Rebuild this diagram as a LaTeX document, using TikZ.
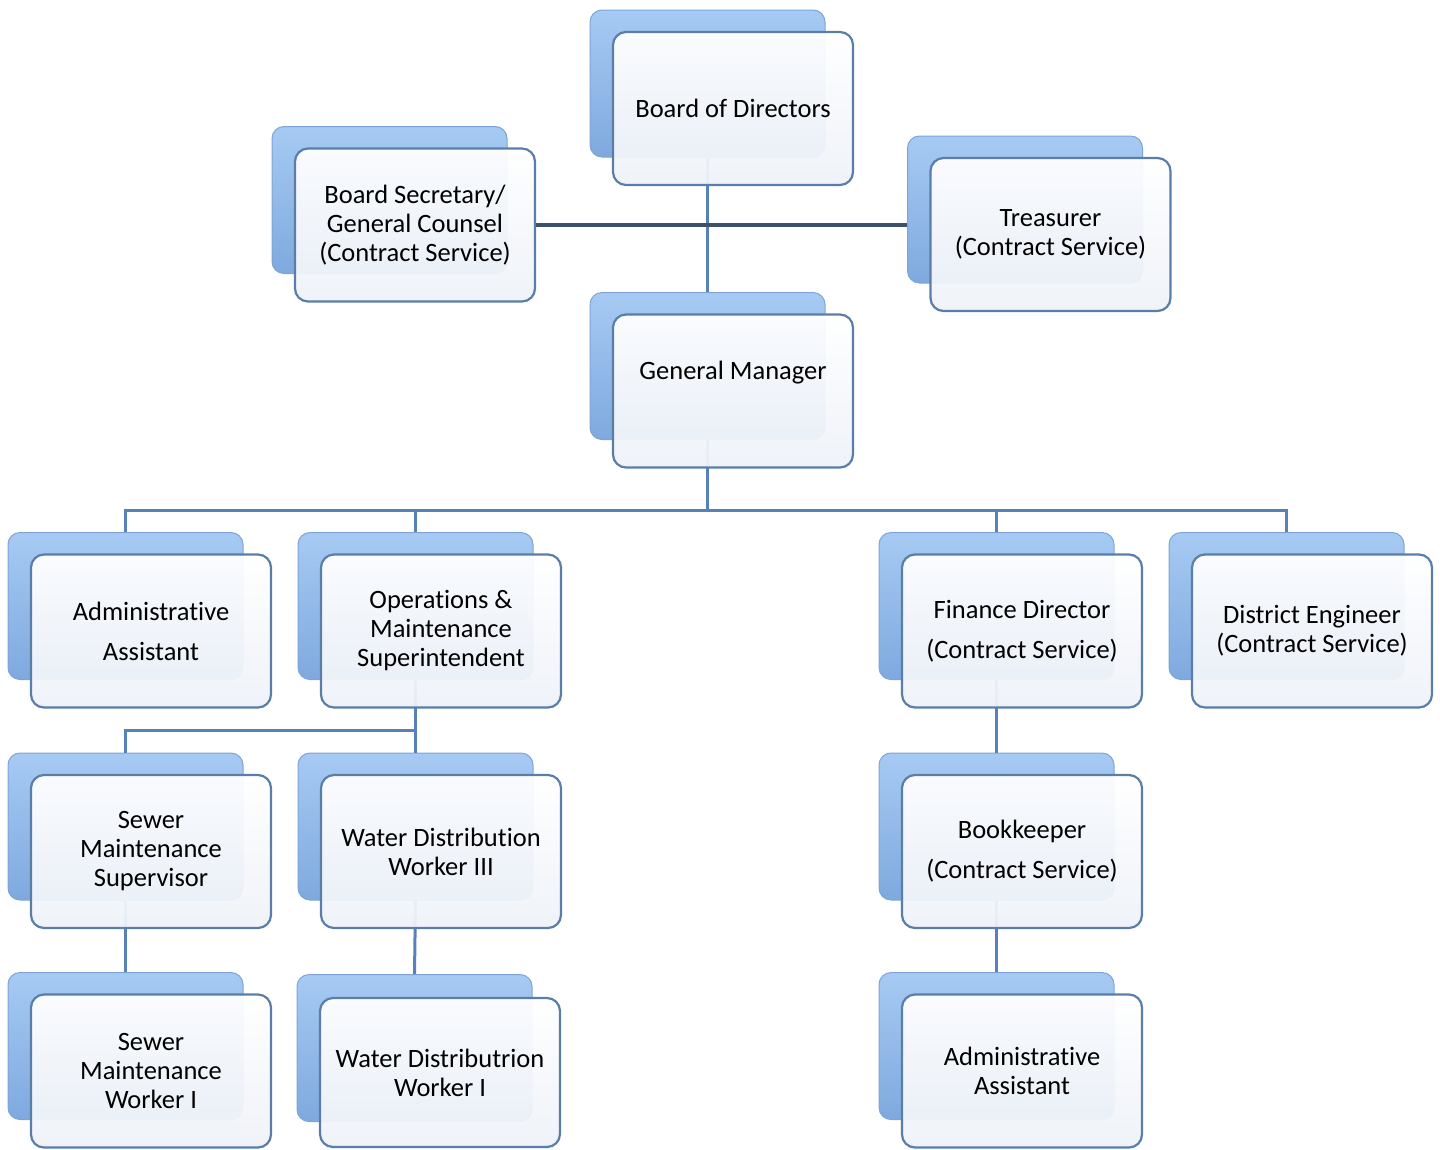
\documentclass[tikz,border=0pt]{standalone}
\usepackage{fontspec}
\setmainfont{Carlito}[Ligatures={NoCommon}]
\definecolor{backtop}{HTML}{A6CAF3}
\definecolor{backbot}{HTML}{7FA9DE}
\definecolor{backedge}{HTML}{7CA4D6}
\definecolor{frontedge}{HTML}{5A7EA8}
\definecolor{frontbot}{HTML}{EEF2F9}
\definecolor{linkblue}{HTML}{5682B8}
\definecolor{darklink}{HTML}{3F5169}
\begin{document}
\begin{tikzpicture}[x=1pt,y=-1pt,
  backbox/.style={minimum width=235pt,minimum height=147pt,rounded corners=12pt,
    top color=backtop,bottom color=backbot,draw=backedge,line width=1pt,inner sep=0pt},
  frontbox/.style={minimum width=240pt,minimum height=153pt,rounded corners=13pt,
    top color=white,bottom color=frontbot,fill opacity=0.95,text opacity=1,draw=frontedge,line width=2.2pt,
    align=center,inner sep=0pt,font=\fontsize{26.5}{29}\selectfont},
  link/.style={draw=linkblue,line width=3pt},
  dlink/.style={draw=darklink,line width=3.5pt}]
\useasboundingbox (0,0) rectangle (1440,1149);
% back boxes
\node[backbox] (bodB)  at (707.5,83.5) {};
\node[backbox] (secB)  at (389.5,200) {};
\node[backbox] (treB)  at (1025,209.5) {};
\node[backbox] (gmB)   at (707.5,366) {};
\node[backbox] (aaB)   at (125.5,606) {};
\node[backbox] (opsB)  at (415.5,606) {};
\node[backbox] (finB)  at (996.5,606) {};
\node[backbox] (deB)   at (1286.5,606) {};
\node[backbox] (ssupB) at (125.5,826.5) {};
\node[backbox] (w3B)   at (415.5,826.5) {};
\node[backbox] (bkB)   at (996.5,826.5) {};
\node[backbox] (sw1B)  at (125.5,1046) {};
\node[backbox] (w1B)   at (414.5,1048) {};
\node[backbox] (aa2B)  at (996.5,1046) {};
% connectors
\coordinate (bus) at (0,510);
\coordinate (bus2) at (0,730);
\draw[link] (bodB.south) -- (gmB.north);
\draw[link] (gmB.south) -- (gmB.south |- bus);
\draw[link] (aaB.north) -- (aaB.north |- bus) -- (deB.north |- bus) -- (deB.north);
\draw[link] (opsB.north) -- (opsB.north |- bus);
\draw[link] (finB.north) -- (finB.north |- bus);
\draw[link] (opsB.south) -- (w3B.north);
\draw[link] (ssupB.north) -- (ssupB.north |- bus2) -- (opsB.south |- bus2);
\draw[link] (ssupB.south) -- (sw1B.north);
\draw[link] (w3B.south) -- (w1B.north);
\draw[link] (finB.south) -- (bkB.north);
\draw[link] (bkB.south) -- (aa2B.north);
% front boxes
\node[frontbox] (bod)  at (733,108.5) {Board of Directors};
\node[frontbox] (sec)  at (415,225) {Board Secretary/\\General Counsel\\(Contract Service)};
\node[frontbox] (tre)  at (1050.5,234.5) {Treasurer\\(Contract Service)};
\node[frontbox] (gm)   at (733,391) {General Manager\\[13pt]\mbox{}};
\node[frontbox] (aa)   at (151,631) {Administrative\\[11pt]Assistant};
\node[frontbox] (ops)  at (441,631) {Operations \&\\Maintenance\\Superintendent};
\node[frontbox] (fin)  at (1022,631) {Finance Director\\[11pt](Contract Service)};
\node[frontbox] (de)   at (1312,631) {District Engineer\\(Contract Service)};
\node[frontbox] (ssup) at (151,851.5) {Sewer\\Maintenance\\Supervisor};
\node[frontbox] (w3)   at (441,851.5) {Water Distribution\\Worker III};
\node[frontbox] (bk)   at (1022,851.5) {Bookkeeper\\[11pt](Contract Service)};
\node[frontbox] (sw1)  at (151,1071) {Sewer\\Maintenance\\Worker I};
\node[frontbox,minimum height=149pt] (w1) at (440,1072.5) {Water Distributrion\\Worker I};
\node[frontbox] (aa2)  at (1022,1071) {Administrative\\Assistant};
% secretary - treasurer link
\draw[dlink] (sec.east) -- (sec.east -| treB.west);
\end{tikzpicture}
\end{document}
